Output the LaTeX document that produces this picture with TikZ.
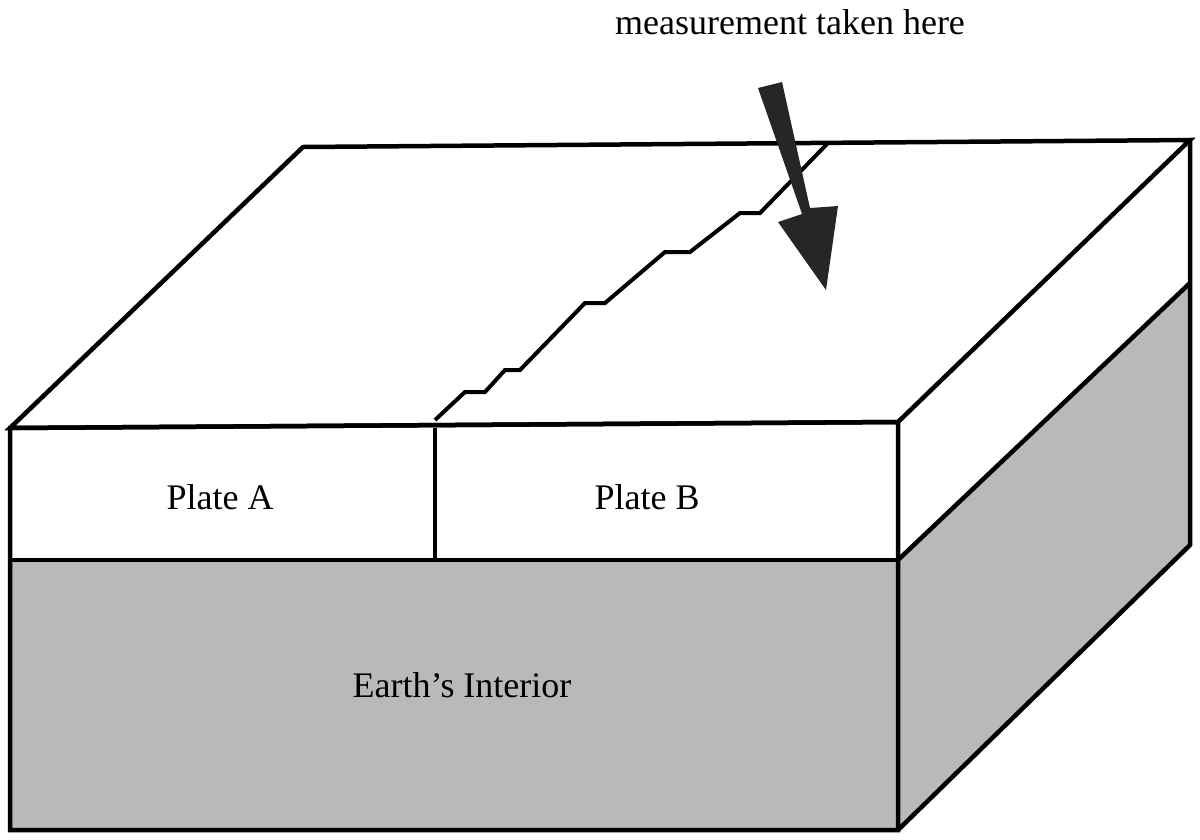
\documentclass[tikz,border=0pt]{standalone}
\usepackage{fontspec}
\setmainfont{Liberation Serif}
\begin{document}
\begin{tikzpicture}[x=1pt,y=-1pt,line width=4.5pt,line join=miter,
  lbl/.style={font=\fontsize{36}{40}\selectfont,inner sep=0pt}]
\useasboundingbox (0,0) rectangle (1200,839);
% coordinates
\coordinate (FTL) at (10,428);
\coordinate (FTR) at (898,422);
\coordinate (FML) at (10,560);
\coordinate (FMR) at (898,560);
\coordinate (FBL) at (10,830);
\coordinate (FBR) at (898,830);
\coordinate (BTL) at (303,147);
\coordinate (BTR) at (1190,140);
\coordinate (BMR) at (1190,283);
\coordinate (BBR) at (1190,545);
\coordinate (D1) at (435,428);
\coordinate (D2) at (435,560);
% grey faces
\fill[gray!55] (FML) -- (FMR) -- (FBR) -- (FBL) -- cycle;
\fill[gray!55] (FMR) -- (BMR) -- (BBR) -- (FBR) -- cycle;
% outlines
\draw (FTL) -- (BTL) -- (BTR) -- (FTR) -- cycle;
\draw (FTL) -- (FTR) -- (FBR) -- (FBL) -- cycle;
\draw (FML) -- (FMR);
\draw (D1) -- (D2);
\draw (BTR) -- (BBR) -- (FBR);
\draw (FMR) -- (BMR);
% fault
\draw[line width=4pt] (435,420) -- (465,392) -- (485,392) -- (505,370) -- (520,370) -- (585,303) -- (605,303) -- (665,252) -- (690,252) -- (740,213) -- (760,213) -- (828,143);
% arrow
\fill[black!85] (758,88) -- (782,82) -- (810,208) -- (838,206) -- (826,290) -- (778,222) -- (802,214) -- cycle;
% labels
\node[lbl] (m) at (790,22) {measurement taken here};
\node[lbl] (a) at (220,497) {Plate A};
\node[lbl] (b) at (647,497) {Plate B};
\node[lbl] (e) at (462,685) {Earth’s Interior};
\end{tikzpicture}
\end{document}
